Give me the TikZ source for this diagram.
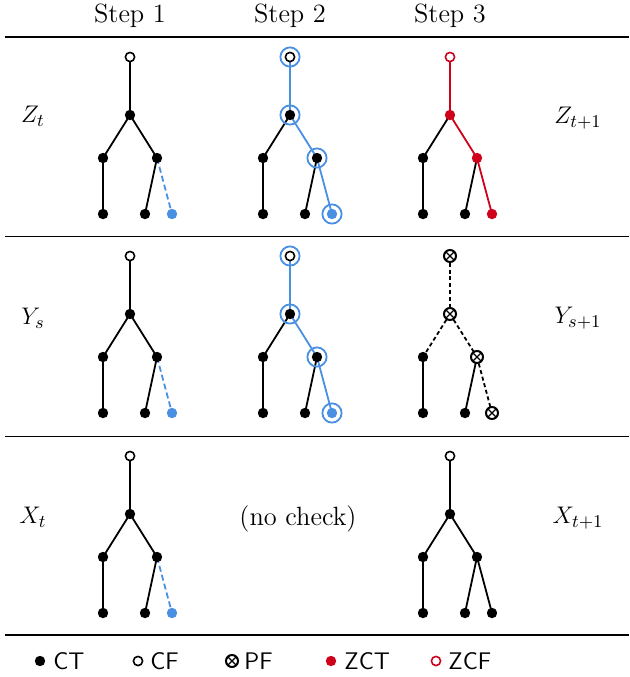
\documentclass[tikz,border=0pt]{standalone}
\usetikzlibrary{backgrounds}
\definecolor{zblue}{RGB}{74,144,226}
\definecolor{zred}{RGB}{208,2,27}
\tikzset{
  ct/.style={circle,fill=black,inner sep=0pt,minimum size=5.2pt},
  cf/.style={circle,draw=black,fill=white,line width=0.8pt,inner sep=0pt,minimum size=4.6pt},
  pf/.style={circle,draw=black,fill=white,line width=1pt,inner sep=0pt,minimum size=6pt,
    path picture={\draw[line width=0.6pt] (path picture bounding box.north west)--(path picture bounding box.south east)
      (path picture bounding box.north east)--(path picture bounding box.south west);}},
  zct/.style={ct,fill=zred},
  zcf/.style={cf,draw=zred},
  bct/.style={ct,fill=zblue},
  ring/.style={circle,draw=zblue,line width=0.9pt,inner sep=0pt,minimum size=9.6pt},
  sol/.style={line width=0.9pt,black},
  bsol/.style={line width=0.9pt,zblue},
  rsol/.style={line width=0.9pt,zred},
  bdash/.style={line width=0.9pt,zblue,dash pattern=on 3pt off 1.6pt},
  kdash/.style={line width=0.9pt,black,dash pattern=on 2pt off 1.4pt},
  heavyrule/.style={line width=0.8pt},
  lightrule/.style={line width=0.5pt},
  lbl/.style={font=\fontsize{13.2}{15}\selectfont,inner sep=0pt},
  leg/.style={font=\fontsize{12}{14}\sffamily,inner sep=0pt,anchor=west},
}
% prefix, x, y, root style, mid style, right-child style, extra-leaf style
\newcommand{\mytree}[7]{%
  \node[#4] (#1r) at (#2,#3) {};
  \node[#5] (#1m) at ([shift={(0,58)}]#2,#3) {};
  \node[ct] (#1l) at ([shift={(-27,101)}]#2,#3) {};
  \node[#6] (#1q) at ([shift={(27,101)}]#2,#3) {};
  \node[ct] (#1a) at ([shift={(-27,157)}]#2,#3) {};
  \node[ct] (#1b) at ([shift={(15,157)}]#2,#3) {};
  \node[#7] (#1c) at ([shift={(42,157)}]#2,#3) {};
}
% prefix, root-mid, mid-left, mid-right, right-extra
\newcommand{\myedges}[5]{%
  \begin{pgfonlayer}{background}
  \draw[sol] (#1l.center) -- (#1a.center);
  \draw[sol] (#1q.center) -- (#1b.center);
  \draw[#3] (#1m.center) -- (#1l.center);
  \draw[#2] (#1r.center) -- (#1m.center);
  \draw[#4] (#1m.center) -- (#1q.center);
  \draw[#5] (#1q.center) -- (#1c.center);
  \end{pgfonlayer}
}
\newcommand{\myrings}[1]{%
  \node[ring] (#1Rr) at (#1r) {};
  \node[ring] (#1Rm) at (#1m) {};
  \node[ring] (#1Rq) at (#1q) {};
  \node[ring] (#1Rc) at (#1c) {};
}
\begin{document}
\begin{tikzpicture}[x=0.5pt,y=-0.5pt]
\useasboundingbox (0,0) rectangle (629,677);
% header
\node[lbl] (h1) at (130,16) {Step 1};
\node[lbl] (h2) at (290,16) {Step 2};
\node[lbl] (h3) at (450,16) {Step 3};
% rules
\draw[heavyrule] (5,37) -- (629,37);
\draw[lightrule] (5,236) -- (629,236);
\draw[lightrule] (5,436) -- (629,436);
\draw[heavyrule] (5,635) -- (629,635);
% row labels
\node[lbl] (zl) at (33,116) {$Z_t$};
\node[lbl] (zr) at (578,118) {$Z_{t+1}$};
\node[lbl] (yl) at (33,318) {$Y_s$};
\node[lbl] (yr) at (578,318) {$Y_{s+1}$};
\node[lbl] (xl) at (33,517) {$X_t$};
\node[lbl] (xr) at (578,518) {$X_{t+1}$};
\node[lbl] (nc) at (298,519) {(no check)};
% row Z
\mytree{za}{130}{57}{cf}{ct}{ct}{bct}
\myedges{za}{sol}{sol}{sol}{bdash}
\mytree{zb}{290}{57}{cf}{ct}{ct}{bct}
\myedges{zb}{bsol}{sol}{bsol}{bsol}
\myrings{zb}
\mytree{zc}{450}{57}{zcf}{zct}{zct}{zct}
\myedges{zc}{rsol}{sol}{rsol}{rsol}
% row Y
\mytree{ya}{130}{256}{cf}{ct}{ct}{bct}
\myedges{ya}{sol}{sol}{sol}{bdash}
\mytree{yb}{290}{256}{cf}{ct}{ct}{bct}
\myedges{yb}{bsol}{sol}{bsol}{bsol}
\myrings{yb}
\mytree{yc}{450}{256}{pf}{pf}{pf}{pf}
\myedges{yc}{kdash}{kdash}{kdash}{kdash}
% row X
\mytree{xa}{130}{456}{cf}{ct}{ct}{bct}
\myedges{xa}{sol}{sol}{sol}{bdash}
\mytree{xc}{450}{456}{cf}{ct}{ct}{ct}
\myedges{xc}{sol}{sol}{sol}{sol}
% legend
\node[ct] (l1) at (40,661) {};
\node[leg] (t1) at (53,661) {CT};
\node[cf] (l2) at (138,661) {};
\node[leg] (t2) at (150,661) {CF};
\node[pf] (l3) at (232,661) {};
\node[leg] (t3) at (244,661) {PF};
\node[zct] (l4) at (331,661) {};
\node[leg] (t4) at (344,661) {ZCT};
\node[zcf] (l5) at (436,661) {};
\node[leg] (t5) at (448,661) {ZCF};
\end{tikzpicture}
\end{document}
